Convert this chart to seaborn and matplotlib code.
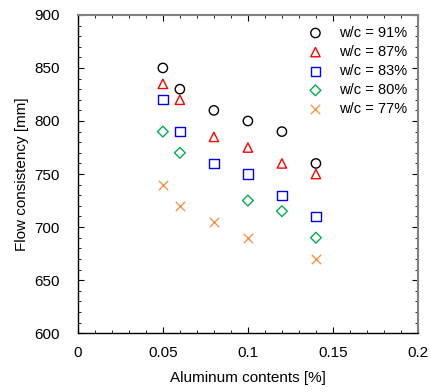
import numpy as np
import matplotlib
matplotlib.use("Agg")
import matplotlib.pyplot as plt
import seaborn as sns
from matplotlib.ticker import MultipleLocator, FormatStrFormatter

# Aluminum contents [%]
aluminum = [0.05, 0.06, 0.08, 0.10, 0.12, 0.14]

# Flow consistency [mm] per w/c ratio
wc_91 = [850, 830, 810, 800, 790, 760]
wc_87 = [835, 820, 785, 775, 760, 750]
wc_83 = [820, 790, 760, 750, 730, 710]
wc_80 = [790, 770, np.nan, 725, 715, 690]
wc_77 = [740, 720, 705, 690, np.nan, 670]

series = [
    ("w/c = 91%", wc_91, "o", "black"),
    ("w/c = 87%", wc_87, "^", "#ff0000"),
    ("w/c = 83%", wc_83, "s", "#0000ff"),
    ("w/c = 80%", wc_80, "D", "#00b050"),
    ("w/c = 77%", wc_77, "x", "#f79646"),
]

sns.set_style("ticks")
plt.rcParams["font.family"] = ["Liberation Sans", "DejaVu Sans"]
plt.rcParams["text.color"] = "black"
plt.rcParams["axes.labelcolor"] = "black"
plt.rcParams["xtick.color"] = "black"
plt.rcParams["ytick.color"] = "black"

fig, ax = plt.subplots(figsize=(4.30, 3.92), dpi=100)
fig.subplots_adjust(left=0.181, right=0.972, top=0.962, bottom=0.150)

for label, vals, marker, color in series:
    size = 30 if marker == "D" else 45
    if marker == "x":
        sns.scatterplot(x=aluminum, y=vals, marker=marker, s=45, color=color,
                        linewidth=1.0, label=label, ax=ax)
    else:
        sns.scatterplot(x=aluminum, y=vals, marker=marker, s=size, facecolors="none",
                        edgecolor=color, linewidth=1.0, label=label, ax=ax)

for coll in ax.collections[:4]:
    coll.set_facecolor("none")

ax.set_xlim(0, 0.2)
ax.set_ylim(600, 900)
ax.xaxis.set_major_locator(MultipleLocator(0.05))
ax.xaxis.set_minor_locator(MultipleLocator(0.01))
ax.yaxis.set_major_locator(MultipleLocator(50))
ax.yaxis.set_minor_locator(MultipleLocator(10))
ax.xaxis.set_major_formatter(FormatStrFormatter("%g"))
ax.tick_params(which="both", direction="in", top=True, right=True, labelsize=11)
ax.tick_params(which="major", length=4)
ax.tick_params(which="minor", length=2)
ax.tick_params(axis="y", which="major", pad=13)
ax.tick_params(axis="x", which="major", pad=9)
for name, sp in ax.spines.items():
    sp.set_color("black" if name in ("left", "bottom") else "#808080")
    sp.set_linewidth(1.0 if name in ("left", "bottom") else 1.5)

ax.set_xlabel("Aluminum contents [%]", fontsize=11, labelpad=8)
ax.set_ylabel("Flow consistency [mm]", fontsize=11, labelpad=4)

leg = ax.legend(loc="upper right", frameon=False, fontsize=10.5, handletextpad=0.85,
                labelspacing=0.35, borderaxespad=0.35, handlelength=1.5)
for h in leg.legend_handles[:4]:
    h.set_facecolor("none")

fig.savefig("out.png", dpi=100)
